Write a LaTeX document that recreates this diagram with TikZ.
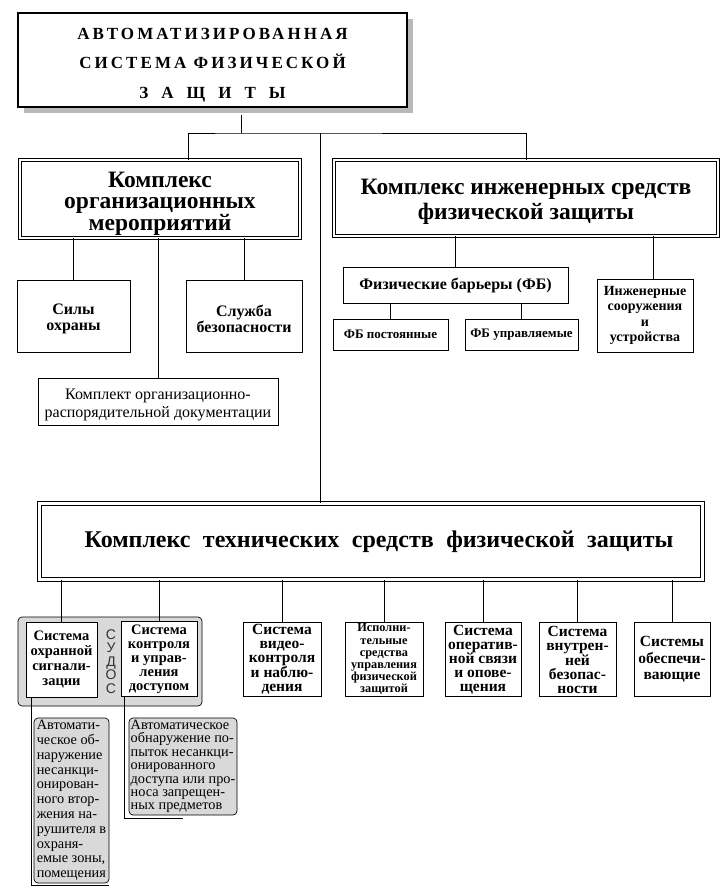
\documentclass[tikz,border=0pt]{standalone}
\usepackage{fontspec}
\setmainfont{Liberation Serif}
\newfontfamily\sudosfont{Liberation Sans}
\newfontfamily\titlefont[LetterSpace=18]{Liberation Serif}
\usetikzlibrary{shadows}

\tikzset{
  box/.style={draw, line width=0.8pt, fill=white, align=center, inner sep=1pt},
  dbox/.style={box, double, double distance=2.5pt, line width=0.6pt},
  greybox/.style={draw, line width=0.7pt, rounded corners=4pt, fill=gray!30},
  link/.style={line width=0.6pt},
}

\begin{document}
\begin{tikzpicture}[x=1pt,y=-1pt]

        \useasboundingbox (0,0) rectangle (722,891);

        % Title
        \node[box, line width=1.8pt, minimum width=389pt, minimum height=94pt,
              font={\titlefont\fontsize{17}{29.5}\selectfont\bfseries},
              drop shadow={shadow xshift=6pt, shadow yshift=-6pt, fill=gray!55, opacity=1}]
              (title) at (212.5,60) {\rule{0pt}{21pt}АВТОМАТИЗИРОВАННАЯ\\СИСТЕМА ФИЗИЧЕСКОЙ\\З\hspace{13pt}А\hspace{13pt}Щ\hspace{13pt}И\hspace{13pt}Т\hspace{13pt}Ы};

        % Organisation complex
        \node[dbox, minimum width=280pt, minimum height=78pt,
              font={\fontsize{23.5}{21.5}\selectfont\bfseries}]
              (org) at (160,199) {\rule{0pt}{24pt}Комплекс\\организационных\\мероприятий};
        \node[box, minimum width=113pt, minimum height=72pt,
              font={\fontsize{16}{16}\selectfont\bfseries}]
              (guard) at (73.5,316) {\rule{0pt}{17pt}Силы\\охраны};
        \node[box, minimum width=116pt, minimum height=72pt,
              font={\fontsize{16}{16}\selectfont\bfseries}]
              (secserv) at (244,316) {\rule{0pt}{17pt}Служба\\безопасности};
        \node[box, minimum width=240pt, minimum height=47pt,
              font={\fontsize{16}{17.5}\selectfont}]
              (docs) at (158,401.5) {\rule{0pt}{17pt}Комплект организационно-\\распорядительной документации};

        % Engineering complex
        \node[dbox, minimum width=384pt, minimum height=76pt,
              font={\fontsize{23.5}{25}\selectfont\bfseries}]
              (eng) at (526,198) {\rule{0pt}{22pt}Комплекс инженерных средств\\физической защиты};
        \node[box, minimum width=225pt, minimum height=36pt,
              font={\fontsize{16}{18}\selectfont\bfseries}]
              (barriers) at (455.5,285) {Физические барьеры (ФБ)};
        \node[box, minimum width=115pt, minimum height=31pt,
              font={\fontsize{13}{15}\selectfont\bfseries}]
              (fbconst) at (390.5,334.5) {ФБ постоянные};
        \node[box, minimum width=113pt, minimum height=31pt,
              font={\fontsize{13}{15}\selectfont\bfseries}]
              (fbctrl) at (521.5,334.5) {ФБ управляемые};
        \node[box, minimum width=96pt, minimum height=73pt,
              font={\fontsize{14}{15.5}\selectfont\bfseries}]
              (constr) at (645,315.5) {Инженерные\\сооружения\\и\\устройства};

        % Technical complex
        \node[dbox, double distance=3.5pt, line width=0.8pt, minimum width=663pt, minimum height=76pt,
              font={\fontsize{24}{26}\selectfont\bfseries\spaceskip=12.5pt}]
              (tech) at (371,541.5) {\hspace*{16pt}Комплекс технических средств физической защиты};

        % SUDOS group
        \node[greybox, minimum width=184pt, minimum height=89pt] (sudos) at (110,661.5) {};
        \node[font={\sudosfont\fontsize{14}{13.6}\selectfont}, align=center, inner sep=0pt,
              text=black!80] (sudostxt) at (111,661.5) {С\\У\\Д\\О\\С};
        \node[box, minimum width=71pt, minimum height=75pt,
              font={\fontsize{14.5}{15}\selectfont\bfseries}]
              (sig) at (61.5,659.5) {Система\\охранной\\сигнали-\\зации};
        \node[box, minimum width=76pt, minimum height=75pt,
              font={\fontsize{14.5}{14}\selectfont\bfseries}]
              (acc) at (159,659) {Система\\контроля\\и управ-\\ления\\доступом};

        % Other systems
        \node[box, minimum width=78pt, minimum height=74pt,
              font={\fontsize{15.5}{14}\selectfont\bfseries}]
              (video) at (282,659.5) {Система\\видео-\\контроля\\и наблю-\\дения};
        \node[box, minimum width=78pt, minimum height=74pt,
              font={\fontsize{12.3}{12.2}\selectfont\bfseries}]
              (exec) at (384,659.5) {Исполни-\\тельные\\средства\\управления\\физической\\защитой};
        \node[box, minimum width=76pt, minimum height=74pt,
              font={\fontsize{15.5}{14}\selectfont\bfseries}]
              (oper) at (483,659.5) {Система\\оператив-\\ной связи\\и опове-\\щения};
        \node[box, minimum width=77pt, minimum height=74pt,
              font={\fontsize{15.5}{14}\selectfont\bfseries}]
              (inner) at (577.5,659.5) {Система\\внутрен-\\ней\\безопас-\\ности};
        \node[box, minimum width=76pt, minimum height=74pt,
              font={\fontsize{15.5}{16.5}\selectfont\bfseries}]
              (supp) at (672,659.5) {Системы\\обеспечи-\\вающие};

        % Descriptions
        \node[greybox, minimum width=75pt, minimum height=165pt, inner sep=1.5pt, align=left,
              font={\fontsize{14.3}{14.8}\selectfont}]
              (descA) at (71.5,800.5) {Автомати-\\ческое об-\\наружение\\несанкци-\\онирован-\\ного втор-\\жения на-\\рушителя в\\охраня-\\емые зоны,\\помещения};
        \node[greybox, minimum width=108pt, minimum height=97pt, inner sep=1.5pt, align=left,
              font={\fontsize{14.3}{13.4}\selectfont}]
              (descB) at (183,766.5) {Автоматическое\\обнаружение по-\\пыток несанкци-\\онированного\\доступа или про-\\носа запрещен-\\ных предметов};

        % Connections
        \coordinate (split) at (241,133);
        \coordinate (trunk) at (320,133);
        \draw[link] ([yshift=-7pt]title.south -| split) -- (split);
        \draw[link] ([xshift=28pt]org.north) |- (split) -| (eng.north);
        \draw[link] (trunk) -- (trunk |- tech.north);
        \foreach \n in {guard, secserv, docs}
          \draw[link] (\n.north) -- (\n.north |- org.south);
        \draw[link] (barriers.north) -- (barriers.north |- eng.south);
        \draw[link] ([xshift=8pt]constr.north) -- ([xshift=8pt]constr.north |- eng.south);
        \foreach \n in {fbconst, fbctrl}
          \draw[link] (\n.north) -- (\n.north |- barriers.south);
        \foreach \n in {sig, acc, video, exec, oper, inner, supp}
          \draw[link] (\n.north) -- (\n.north |- tech.south);
        \draw[link] ([xshift=-2pt]descA.west |- sig.south) |- ([yshift=-2pt]descA.south east);
        \draw[link] ([xshift=-4pt]descB.west |- acc.south) |- ([yshift=-3pt]descB.south);

    \end{tikzpicture}
\end{document}
